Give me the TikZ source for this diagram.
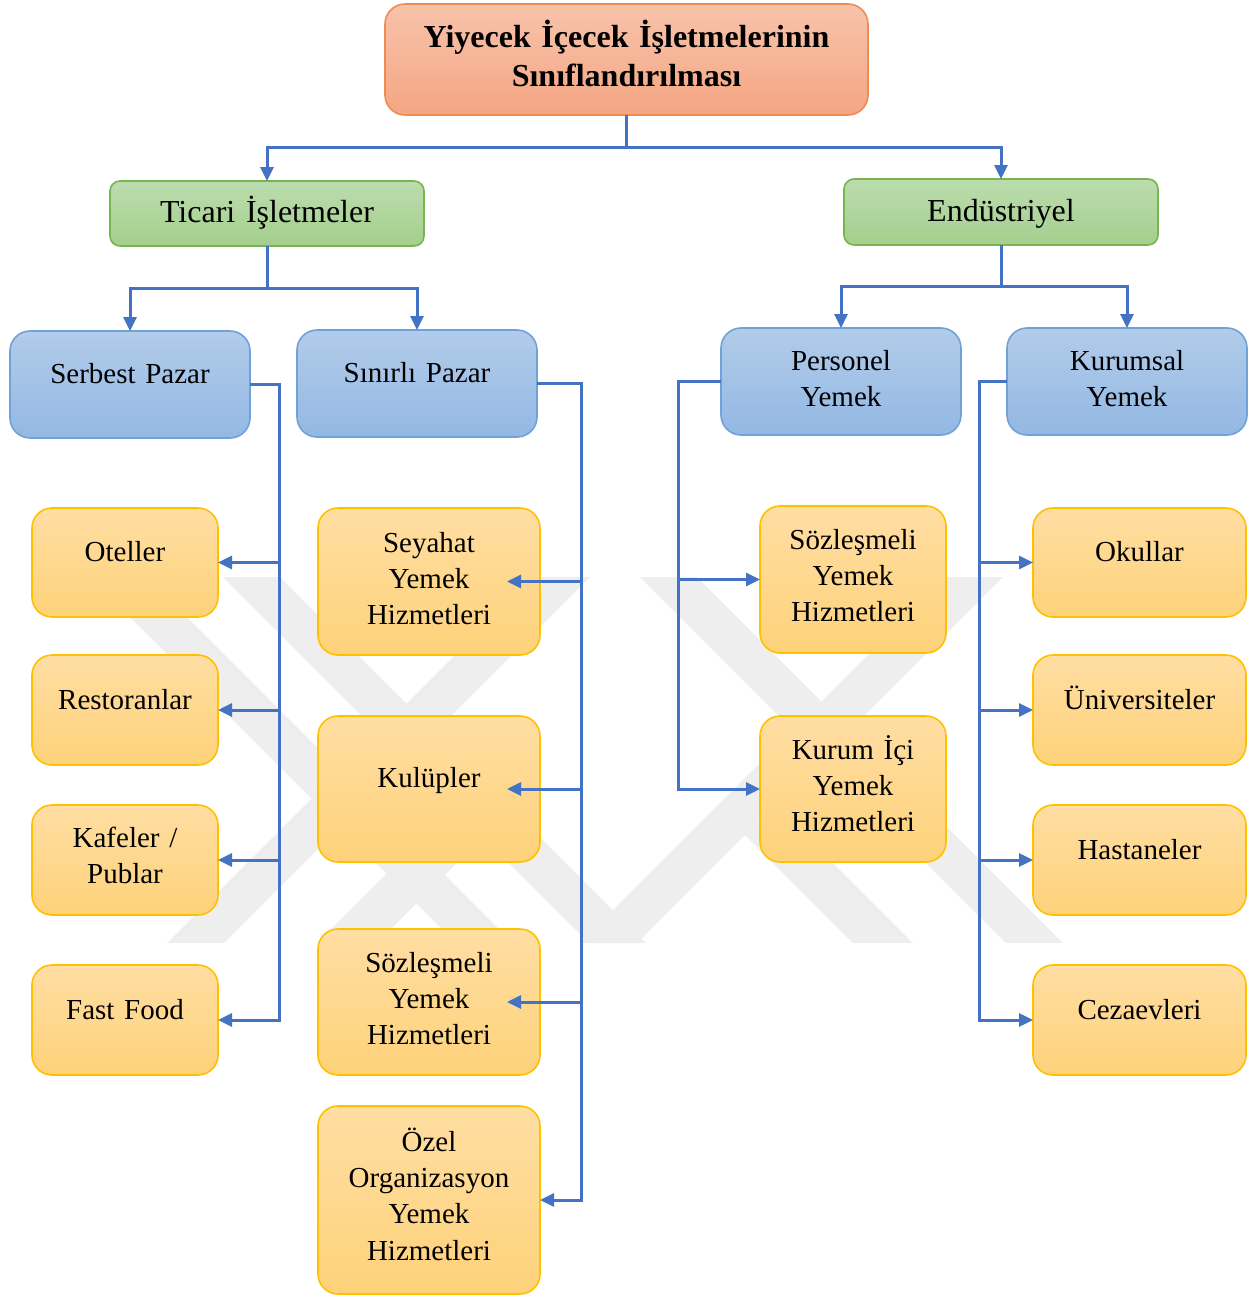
\documentclass[tikz,border=0pt]{standalone}
\usepackage{fontspec}
\setmainfont{Liberation Serif}
\usetikzlibrary{positioning,arrows.meta}

\definecolor{linkblue}{HTML}{4472C4}
\definecolor{wmgray}{HTML}{EEEEEE}
\definecolor{orgtop}{HTML}{F8C3AB}
\definecolor{orgbot}{HTML}{F4A683}
\definecolor{orgline}{HTML}{EE8C52}
\definecolor{grntop}{HTML}{BCDCAE}
\definecolor{grnbot}{HTML}{A4CF8D}
\definecolor{grnline}{HTML}{78B451}
\definecolor{blutop}{HTML}{B2CCEA}
\definecolor{blubot}{HTML}{93B8E3}
\definecolor{bluline}{HTML}{71A1D9}
\definecolor{yeltop}{HTML}{FFDEA3}
\definecolor{yelbot}{HTML}{FED27A}
\definecolor{yelline}{HTML}{FFC000}

\tikzset{
  box/.style={align=center, inner xsep=0pt, inner ysep=0pt, outer sep=0pt, line width=0.8pt},
  rootbox/.style={box, rounded corners=10pt, draw=orgline, top color=orgtop, bottom color=orgbot,
    text width=241.5pt, font=\bfseries\fontsize{16}{19.8}\selectfont},
  mainbox/.style={box, rounded corners=5pt, draw=grnline, top color=grntop, bottom color=grnbot,
    text width=157pt, font=\fontsize{16}{19}\selectfont},
  subbox/.style={box, rounded corners=10pt, draw=bluline, top color=blutop, bottom color=blubot,
    text width=120pt, font=\fontsize{14.5}{18.4}\selectfont},
  leaf/.style={box, rounded corners=10pt, draw=yelline, top color=yeltop, bottom color=yelbot,
    font=\fontsize{14.5}{18.2}\selectfont},
  link/.style={draw=linkblue, line width=1.5pt, -{Triangle[length=7pt,width=6.5pt]}},
  wmark/.style={fill=wmgray, draw=none}
}

\begin{document}
\begin{tikzpicture}[x=0.5pt, y=0.5pt]
	\useasboundingbox (0,0) rectangle (1257,-1297);
	% watermark in the background
	\fill[wmark] (90,-577) -- (147,-577) -- (513,-943) -- (456,-943) -- cycle;
	\fill[wmark] (223,-577) -- (280,-577) -- (646,-943) -- (589,-943) -- cycle;
	\fill[wmark] (167,-943) -- (224,-943) -- (590,-577) -- (533,-577) -- cycle;
	\fill[wmark] (640,-577) -- (697,-577) -- (1063,-943) -- (1006,-943) -- cycle;
	\fill[wmark] (580,-943) -- (637,-943) -- (1003,-577) -- (946,-577) -- cycle;
	\fill[wmark] (733,-823) -- (793,-823) -- (913,-943) -- (853,-943) -- cycle;
	\fill[wmark] (437,-823) -- (497,-823) -- (377,-943) -- (317,-943) -- cycle;

	% top levels
	\node[rootbox, anchor=north west, text height=21.5pt, text depth=34pt] (root) at (385,-4)
		{Yiyecek İçecek İşletmelerinin\\Sınıflandırılması};
	\node[mainbox, anchor=north west, text height=20.5pt, text depth=12pt] (ticari) at (110,-181) {Ticari İşletmeler};
	\node[mainbox, anchor=north west, text height=21pt, text depth=12pt] (endus) at (844,-179) {Endüstriyel};
	\node[subbox, anchor=north west, text height=26pt, text depth=27.5pt] (serbest) at (10,-331) {Serbest Pazar};
	\node[subbox, anchor=north west, text height=26pt, text depth=27.5pt] (sinirli) at (297,-330) {Sınırlı Pazar};
	\node[subbox, anchor=north west, text height=21pt, text depth=32.5pt] (personel) at (721,-328) {Personel\\Yemek};
	\node[subbox, anchor=north west, text height=21pt, text depth=32.5pt] (kurumsal) at (1007,-328) {Kurumsal\\Yemek};

	% serbest pazar
	\begin{scope}[leaf/.append style={text width=93pt}]
	\node[leaf, anchor=north west, text height=26.5pt, text depth=28pt] (otel) at (32,-508) {Oteller};
	\node[leaf, below=19pt of otel, text height=27pt, text depth=28pt] (restoran) {Restoranlar};
	\node[leaf, below=20pt of restoran, text height=21pt, text depth=34pt] (kafe) {Kafeler /\\Publar};
	\node[leaf, below=25pt of kafe, text height=27pt, text depth=28pt] (fastfood) {Fast Food};
	\end{scope}

	% sinirli pazar
	\begin{scope}[leaf/.append style={text width=111pt}]
	\node[leaf, anchor=north west, text height=22pt, text depth=51.5pt] (seyahat) at (318,-508) {Seyahat\\Yemek\\Hizmetleri};
	\node[leaf, below=30.5pt of seyahat, text height=35.5pt, text depth=37.5pt] (kulup) {Kulüpler};
	\node[leaf, below=33.5pt of kulup, text height=21.5pt, text depth=51.5pt] (sozlesA) {Sözleşmeli\\Yemek\\Hizmetleri};
	\node[leaf, below=15.5pt of sozlesA, text height=22.5pt, text depth=71.5pt] (ozel) {Özel\\Organizasyon\\Yemek\\Hizmetleri};
	\end{scope}

	% personel yemek
	\begin{scope}[leaf/.append style={text width=93pt}]
	\node[leaf, anchor=north west, text height=21.5pt, text depth=52pt] (sozlesB) at (760,-506) {Sözleşmeli\\Yemek\\Hizmetleri};
	\node[leaf, below=31.5pt of sozlesB, text height=21.5pt, text depth=51.5pt] (kurumici) {Kurum İçi\\Yemek\\Hizmetleri};
	\end{scope}

	% kurumsal yemek
	\begin{scope}[leaf/.append style={text width=106.5pt}]
	\node[leaf, anchor=north west, text height=26.5pt, text depth=28pt] (okul) at (1033,-508) {Okullar};
	\node[leaf, below=19pt of okul, text height=27pt, text depth=28pt] (univ) {Üniversiteler};
	\node[leaf, below=20pt of univ, text height=27pt, text depth=28pt] (hastane) {Hastaneler};
	\node[leaf, below=25pt of hastane, text height=27pt, text depth=28pt] (ceza) {Cezaevleri};
	\end{scope}

	% connectors
	\draw[link] (root.south) -- ++(0,-32) -| (ticari.north);
	\draw[link] (root.south) -- ++(0,-32) -| (endus.north);
	\draw[link] (ticari.south) -- ++(0,-42) -| (serbest.north);
	\draw[link] (ticari.south) -- ++(0,-42) -| (sinirli.north);
	\draw[link] (endus.south) -- ++(0,-41) -| (personel.north);
	\draw[link] (endus.south) -- ++(0,-41) -| (kurumsal.north);

	\draw[link] (serbest.east) -- ++(29,0) |- (otel.east);
	\draw[link] (serbest.east) -- ++(29,0) |- (restoran.east);
	\draw[link] (serbest.east) -- ++(29,0) |- (kafe.east);
	\draw[link] (serbest.east) -- ++(29,0) |- (fastfood.east);

	\draw[link] (sinirli.east) -- ++(44,0) |- ([xshift=-16.5pt]seyahat.east);
	\draw[link] (sinirli.east) -- ++(44,0) |- ([xshift=-16.5pt]kulup.east);
	\draw[link] (sinirli.east) -- ++(44,0) |- ([xshift=-16.5pt]sozlesA.east);
	\draw[link] (sinirli.east) -- ++(44,0) |- (ozel.east);

	\draw[link] (personel.west) -- ++(-43,0) |- (sozlesB.west);
	\draw[link] (personel.west) -- ++(-43,0) |- (kurumici.west);

	\draw[link] (kurumsal.west) -- ++(-28,0) |- (okul.west);
	\draw[link] (kurumsal.west) -- ++(-28,0) |- (univ.west);
	\draw[link] (kurumsal.west) -- ++(-28,0) |- (hastane.west);
	\draw[link] (kurumsal.west) -- ++(-28,0) |- (ceza.west);
\end{tikzpicture}
\end{document}
